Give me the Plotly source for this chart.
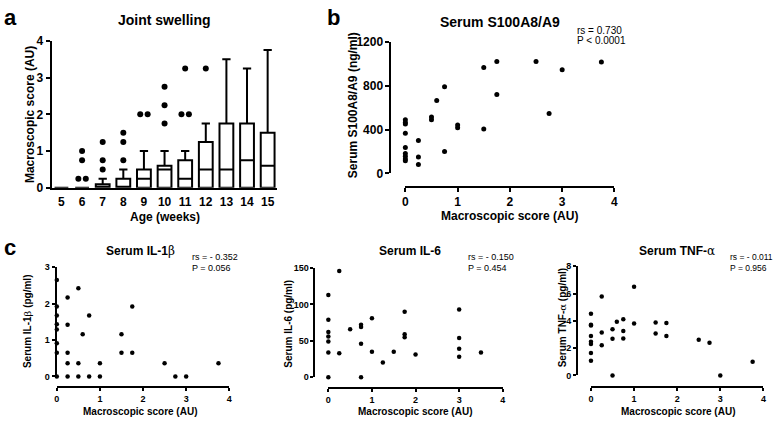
import plotly.graph_objects as go
from collections import defaultdict

W, H = 778, 426
FONT = "Liberation Sans, Arial, sans-serif"

# ---------------- Panel a: Joint swelling (box plots) ----------------
weeks = [5, 6, 7, 8, 9, 10, 11, 12, 13, 14, 15]
box_q1 = [0, 0, 0, 0, 0, 0, 0, 0, 0, 0, 0]
box_median = [0, 0, 0, 0, 0.25, 0.5, 0.25, 0.5, 0.5, 0.75, 0.6]
box_q3 = [0, 0, 0.1, 0.25, 0.5, 0.6, 0.75, 1.25, 1.75, 1.75, 1.5]
box_low = [0, 0, 0, 0, 0, 0, 0, 0, 0, 0, 0]
box_high = [0, 0, 0.25, 0.5, 1.0, 1.0, 1.0, 1.75, 3.5, 3.25, 3.75]
outlier_weeks = [6, 6, 6, 6, 7, 7, 7, 8, 8, 8, 9, 9, 10, 10, 10, 11, 11, 11, 12]
outlier_vals = [1, 0.75, 0.25, 0.25, 1.25, 0.75, 0.5, 1.5, 1.25, 0.75,
                2, 2, 2.75, 2.25, 1.75, 3.25, 2, 2, 3.25]

# ---------------- Panel b: Serum S100A8/A9 ----------------
s100_score = [0, 0, 0, 0, 0, 0, 0, 0, 0, 0.25, 0.25, 0.25, 0.5, 0.5, 0.6,
              0.75, 0.75, 1, 1, 1.5, 1.5, 1.75, 1.75, 2.5, 2.75, 3, 3.75]
s100_val = [490, 465, 450, 365, 235, 180, 155, 130, 115, 300, 150, 80, 515, 490, 665,
            790, 200, 440, 415, 965, 405, 1020, 720, 1020, 545, 945, 1015]

# ---------------- Panel c: cytokines ----------------
il1_score = [0, 0, 0, 0, 0, 0, 0, 0, 0.25, 0.25, 0.25, 0.25, 0.25, 0.5, 0.5, 0.5,
             0.6, 0.75, 0.75, 1, 1, 1.5, 1.5, 1.75, 1.75, 2.5, 2.75, 3, 3.75]
il1_val = [2.65, 1.92, 1.67, 1.43, 1.29, 0.91, 0.65, 0, 2.17, 1.42, 0.65, 0.36, 0, 2.42, 0.36, 0,
           1.16, 1.67, 0, 0.36, 0, 1.16, 0.65, 1.92, 0.65, 0.36, 0, 0, 0.36]

il6_score = [0, 0, 0, 0, 0, 0, 0, 0.25, 0.25, 0.5, 0.75, 0.75, 0.75, 0.75, 1, 1,
             1.25, 1.5, 1.75, 1.75, 1.75, 2, 3, 3, 3, 3, 3.5]
il6_val = [113, 79, 62, 56, 49, 34, 0, 146, 33, 66, 72, 69, 46, 0, 81, 35,
           20, 35, 90, 59, 55, 31, 93, 54, 39, 28, 34]

tnf_score = [0, 0, 0, 0, 0, 0, 0, 0, 0.25, 0.25, 0.25, 0.5, 0.5, 0.5, 0.6, 0.75, 0.75, 0.75,
             1, 1, 1.5, 1.5, 1.75, 1.75, 2.5, 2.75, 3, 3.75]
tnf_val = [4.52, 3.72, 3.65, 2.89, 2.47, 2.31, 1.65, 1.08, 5.79, 3.15, 2.21, 3.39, 2.68, 0, 3.93,
           4.12, 3.25, 2.71, 6.49, 3.81, 3.88, 3.08, 3.84, 2.89, 2.61, 2.40, 0, 1.01]


def px(x):
    return x / W


def py(y):
    return 1 - y / H


def axis_style(size):
    return dict(showline=True, linecolor="black", linewidth=2, ticks="outside",
                ticklen=4, tickwidth=2, tickcolor="black", showgrid=False,
                zeroline=False, fixedrange=True,
                tickfont=dict(family=FONT, size=size, color="black", weight="bold"))


fig = go.Figure()

# ---- panel a traces
fig.add_trace(go.Box(
    x=weeks, q1=box_q1, median=box_median, q3=box_q3,
    lowerfence=box_low, upperfence=box_high,
    width=0.67, whiskerwidth=0.6, fillcolor="white",
    line=dict(color="black", width=2), boxpoints=False,
    xaxis="x", yaxis="y", showlegend=False, hoverinfo="skip"))

# side-by-side placement of duplicated outliers
groups = defaultdict(list)
for w, v in zip(outlier_weeks, outlier_vals):
    groups[(w, v)].append(w)
ox, oy = [], []
for (w, v), members in groups.items():
    n = len(members)
    for i in range(n):
        off = (i - (n - 1) / 2) * 0.36 if n > 1 else 0
        ox.append(w + off)
        oy.append(v)
fig.add_trace(go.Scatter(x=ox, y=oy, mode="markers", cliponaxis=False,
                         marker=dict(color="black", size=6),
                         xaxis="x", yaxis="y", showlegend=False))

# ---- scatter panels
panels = [
    # name, xs, ys, x dom px, y dom px, y-axis x px, x-axis y px, yrange, yticks, tick font, marker
    ("2", s100_score, s100_val, (406, 617), (36, 172), 391, 186, [0, 1200], [0, 400, 800, 1200], 12, 5),
    ("3", il1_score, il1_val, (54.3, 228.3), (269, 382), 53, 393.3, [0, 3], [0, 1, 2, 3], 9, 4.5),
    ("4", il6_score, il6_val, (328.3, 504.3), (270, 382.7), 314.3, 394, [0, 150], [0, 50, 100, 150], 9, 4.5),
    ("5", tnf_score, tnf_val, (593.3, 767.3), (268, 381), 579.3, 393, [0, 8], [0, 2, 4, 6, 8], 9, 4.5),
]

layout_axes = {}
for name, xs, ys, xd, yd, yax, xay, yr, yt, fs, ms in panels:
    fig.add_trace(go.Scatter(x=xs, y=ys, mode="markers", cliponaxis=False,
                             marker=dict(color="black", size=ms),
                             xaxis="x" + name, yaxis="y" + name, showlegend=False))
    xa = axis_style(fs)
    xa.update(domain=[px(xd[0]), px(xd[1])], range=[0, 4], tickvals=[0, 1, 2, 3, 4],
              anchor="free", position=py(xay))
    ya = axis_style(fs)
    ya.update(domain=[py(yd[1]), py(yd[0])], range=yr, tickvals=yt,
              anchor="free", position=px(yax))
    if fs < 12:
        xa.update(ticklen=3)
        ya.update(ticklen=3)
    layout_axes["xaxis" + name] = xa
    layout_axes["yaxis" + name] = ya

xa1 = axis_style(12)
xa1.update(domain=[px(49), px(276)], range=[4.52, 15.43], tickvals=weeks,
           ticks="outside", tickcolor="rgba(0,0,0,0)", ticklen=2, anchor="y")
ya1 = axis_style(12)
ya1.update(domain=[py(187), py(35)], range=[0, 4], tickvals=[0, 1, 2, 3, 4], anchor="x")

GREEK = "<span style=\"font-family:'DejaVu Serif';font-weight:normal\">{}</span>"
beta = GREEK.format("β")
alpha = GREEK.format("α")

annos = []


def text(t, x, y, size, bold=True, rot=0, xanchor="center"):
    annos.append(dict(text=t, x=px(x), y=py(y), xref="paper", yref="paper",
                      showarrow=False, textangle=rot, xanchor=xanchor, yanchor="middle",
                      font=dict(family=FONT, size=size, color="black",
                                weight="bold" if bold else "normal")))


# panel letters
text("a", 7.5, 10.5, 22)
text("b", 333, 10.5, 22)
text("c", 7, 249, 22)
# titles
text("Joint swelling", 163, 13.5, 14)
text("Serum S100A8/A9", 502, 15, 14)
text("Serum IL-1" + beta, 139, 252, 12)
text("Serum IL-6", 411, 252, 12)
text("Serum TNF-" + alpha, 680, 252, 12)
# axis titles
text("Macroscopic score (AU)", 28, 111, 12, rot=-90)
text("Age (weeks)", 163, 217, 12)
text("Serum S100A8/A9 (ng/ml)", 352.7, 102, 12, rot=-90)
text("Macroscopic score (AU)", 511, 216, 12)
text("Macroscopic score (AU)", 138, 418, 10)
text("Macroscopic score (AU)", 416, 418, 10)
text("Macroscopic score (AU)", 681, 418, 10)
text("Serum IL-1" + beta + " (pg/ml)", 25, 325, 10, rot=-90)
text("Serum IL-6 (pg/ml)", 288, 327, 10, rot=-90)
text("Serum TNF-" + alpha + " (pg/ml)", 565, 321, 10, rot=-90)
# statistics
text("rs = 0.730", 577, 24, 10, bold=False, xanchor="left")
text("P < 0.0001", 577, 35, 10, bold=False, xanchor="left")
text("rs = - 0.352", 189, 259, 9, bold=False, xanchor="left")
text("P = 0.056", 189, 270, 9, bold=False, xanchor="left")
text("rs = - 0.150", 467, 259, 9, bold=False, xanchor="left")
text("P = 0.454", 467, 270, 9, bold=False, xanchor="left")
text("rs = - 0.011", 732, 259, 8.5, bold=False, xanchor="left")
text("P = 0.956", 732, 270, 8.5, bold=False, xanchor="left")

fig.update_layout(
    width=W, height=H, margin=dict(l=0, r=0, t=0, b=0),
    paper_bgcolor="white", plot_bgcolor="white", showlegend=False,
    font=dict(family=FONT, color="black"),
    xaxis=xa1, yaxis=ya1, annotations=annos, **layout_axes)

fig.write_html("out.html",
               config={"displayModeBar": False, "staticPlot": True},
               post_script="document.body.style.margin='0px';"
                           "document.body.style.padding='0px';"
                           "document.body.style.overflow='hidden';")
